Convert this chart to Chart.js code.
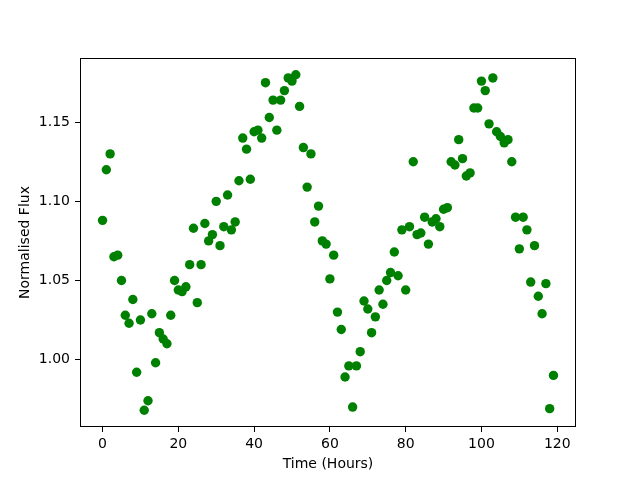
<!DOCTYPE html>
<html>
<head>
<meta charset="utf-8">
<script src="https://cdn.jsdelivr.net/npm/chart.js@4/dist/chart.umd.min.js"></script>
<style>
    body { margin: 0; background: #fff; }
    canvas { display: block; }
</style>
</head>
<body>
<canvas id="fluxChart" width="640" height="480"></canvas>
<script>
// time in hours
const hours = [
    0, 1, 2, 3, 4, 5, 6, 7, 8, 9, 10, 11, 12, 13, 14, 15, 16, 17, 18, 19,
    20, 21, 22, 23, 24, 25, 26, 27, 28, 29, 30, 31, 32, 33, 34, 35, 36, 37, 38, 39,
    40, 41, 42, 43, 44, 45, 46, 47, 48, 49, 50, 51, 52, 53, 54, 55, 56, 57, 58, 59,
    60, 61, 62, 63, 64, 65, 66, 67, 68, 69, 70, 71, 72, 73, 74, 75, 76, 77, 78, 79,
    80, 81, 82, 83, 84, 85, 86, 87, 88, 89, 90, 91, 92, 93, 94, 95, 96, 97, 98, 99,
    100, 101, 102, 103, 104, 105, 106, 107, 108, 109, 110, 111, 112, 113, 114, 115, 116, 117, 118, 119
];

// normalised flux
const flux = [
    1.088, 1.120, 1.130, 1.065, 1.066, 1.050, 1.028, 1.023, 1.038, 0.992,
    1.025, 0.968, 0.974, 1.029, 0.998, 1.017, 1.013, 1.010, 1.028, 1.050,
    1.044, 1.043, 1.046, 1.060, 1.083, 1.036, 1.060, 1.086, 1.075, 1.079,
    1.100, 1.072, 1.084, 1.104, 1.082, 1.087, 1.113, 1.140, 1.133, 1.114,
    1.144, 1.145, 1.140, 1.175, 1.153, 1.164, 1.145, 1.164, 1.170, 1.178,
    1.176, 1.180, 1.160, 1.134, 1.109, 1.130, 1.087, 1.097, 1.075, 1.073,
    1.051, 1.066, 1.030, 1.019, 0.989, 0.996, 0.970, 0.996, 1.005, 1.037,
    1.032, 1.017, 1.027, 1.044, 1.035, 1.050, 1.055, 1.068, 1.053, 1.082,
    1.044, 1.084, 1.125, 1.079, 1.080, 1.090, 1.073, 1.087, 1.089, 1.084,
    1.095, 1.096, 1.125, 1.123, 1.139, 1.127, 1.116, 1.118, 1.159, 1.159,
    1.176, 1.170, 1.149, 1.178, 1.144, 1.141, 1.137, 1.139, 1.125, 1.090,
    1.070, 1.090, 1.082, 1.049, 1.072, 1.040, 1.029, 1.048, 0.969, 0.990
];

const xTicks = [0, 20, 40, 60, 80, 100, 120];
const yTicks = [1.00, 1.05, 1.10, 1.15];

const points = hours.map((h, i) => ({ x: h, y: flux[i] }));

// draws the four spines around the plot area
const frame = {
    id: 'frame',
    afterDraw(chart) {
        const { ctx, chartArea: a } = chart;
        ctx.save();
        ctx.strokeStyle = '#000';
        ctx.lineWidth = 1;
        ctx.strokeRect(a.left + 0.5, a.top + 0.5, a.right - a.left - 1, a.bottom - a.top - 1);
        ctx.restore();
    }
};

const font = { family: 'DejaVu Sans', size: 14 };

new Chart(document.getElementById('fluxChart'), {
    type: 'scatter',
    data: {
        datasets: [{
            data: points,
            backgroundColor: '#008000',
            borderWidth: 0,
            pointRadius: 4.7,
            pointHoverRadius: 4.7
        }]
    },
    options: {
        responsive: false,
        animation: false,
        layout: { padding: { top: 58, right: 64, left: 0, bottom: 0 } },
        plugins: {
            legend: { display: false },
            tooltip: { enabled: false }
        },
        scales: {
            x: {
                type: 'linear',
                min: -5.95,
                max: 124.95,
                afterBuildTicks: (scale) => { scale.ticks = xTicks.map(v => ({ value: v })); },
                afterFit: (scale) => { scale.height = 53; },
                ticks: { color: '#000', font: font, padding: 4, maxRotation: 0 },
                grid: { drawOnChartArea: false, color: '#000', tickLength: 5, lineWidth: 1 },
                border: { display: false },
                title: { display: true, text: 'Time (Hours)', color: '#000', font: font, padding: { top: 0, bottom: 7 } }
            },
            y: {
                type: 'linear',
                min: 0.9574,
                max: 1.1906,
                afterBuildTicks: (scale) => { scale.ticks = yTicks.map(v => ({ value: v })); },
                afterFit: (scale) => { scale.width = 80; },
                ticks: { color: '#000', font: font, padding: 5, callback: (v) => Number(v).toFixed(2) },
                grid: { drawOnChartArea: false, color: '#000', tickLength: 5, lineWidth: 1 },
                border: { display: false },
                title: { display: true, text: 'Normalised Flux', color: '#000', font: font, padding: { top: 17, bottom: 0 } }
            }
        }
    },
    plugins: [frame]
});
</script>
</body>
</html>
